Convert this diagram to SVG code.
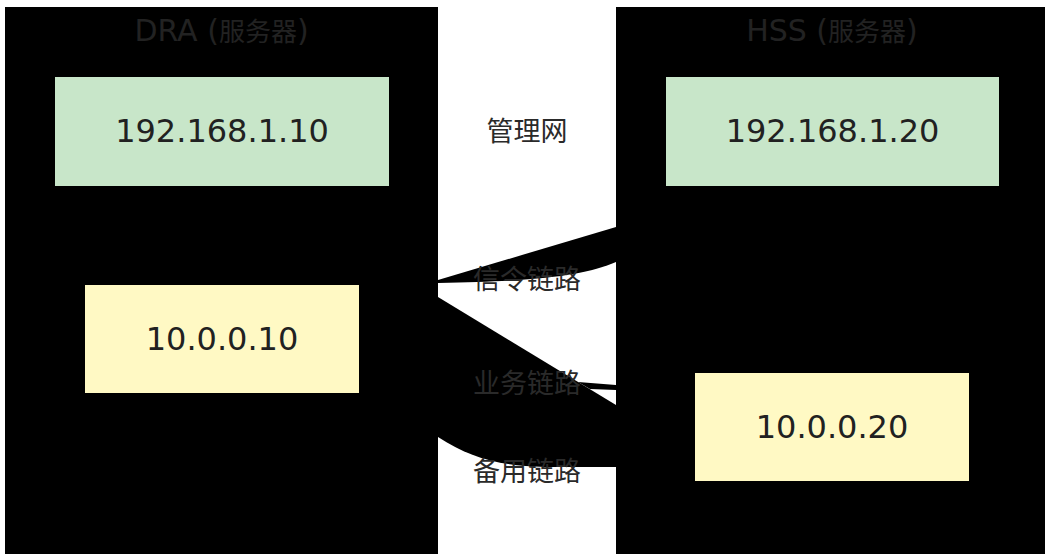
<svg xmlns="http://www.w3.org/2000/svg" width="1045" height="554" viewBox="0 0 1045 554">
<style>
  .cluster { fill: #000000; }
  .ctitle { font-family: "DejaVu Sans", "Noto Sans CJK SC", sans-serif; font-size: 30px; fill: #222222; text-anchor: middle; }
  .cjk { font-size: 26px; }
  .mgmt { fill: #c8e6c9; }
  .sig { fill: #fff9c4; }
  .ntext { font-family: "DejaVu Sans", "Noto Sans CJK SC", sans-serif; font-size: 32px; fill: #212121; text-anchor: middle; }
  .edge { fill: #000000; stroke: none; }
  .elabel { font-family: "DejaVu Sans", "Noto Sans CJK SC", sans-serif; font-size: 27px; fill: #2a2a2a; text-anchor: middle; }
</style>
<rect width="1045" height="554" fill="#ffffff"/>
<g id="cluster-dra">
  <rect class="cluster" x="5" y="7" width="433" height="547"/>
  <text class="ctitle" x="221.5" y="41">DRA (<tspan class="cjk">服务器</tspan>)</text>
</g>
<g id="cluster-hss">
  <rect class="cluster" x="616" y="7" width="429" height="547"/>
  <text class="ctitle" x="832" y="41">HSS (<tspan class="cjk">服务器</tspan>)</text>
</g>
<g id="connectors">
  <path class="edge" d="M438,280 L616,227 L616,262 C585,275 545,281 438,283 Z"/>
  <path class="edge" d="M438,297 L616,405 L616,467 L545,467 C500,466 470,458 438,437 Z"/>
  <path class="edge" d="M578,382 L616,385 L616,390 L590,389 Z"/>
</g>
<g id="edge-labels">
  <text class="elabel" x="527" y="141">管理网</text>
  <text class="elabel" x="527" y="289">信令链路</text>
  <text class="elabel" x="527" y="393">业务链路</text>
  <text class="elabel" x="527" y="481">备用链路</text>
</g>
<g id="node-dra-mgmt">
  <rect class="mgmt" x="55" y="77" width="334" height="109"/>
  <text class="ntext" x="222" y="142">192.168.1.10</text>
</g>
<g id="node-dra-sig">
  <rect class="sig" x="85" y="285" width="274" height="108"/>
  <text class="ntext" x="222" y="349.5">10.0.0.10</text>
</g>
<g id="node-hss-mgmt">
  <rect class="mgmt" x="666" y="77" width="333" height="109"/>
  <text class="ntext" x="832.5" y="142">192.168.1.20</text>
</g>
<g id="node-hss-sig">
  <rect class="sig" x="695" y="373" width="274" height="108"/>
  <text class="ntext" x="832" y="437.5">10.0.0.20</text>
</g>
</svg>
